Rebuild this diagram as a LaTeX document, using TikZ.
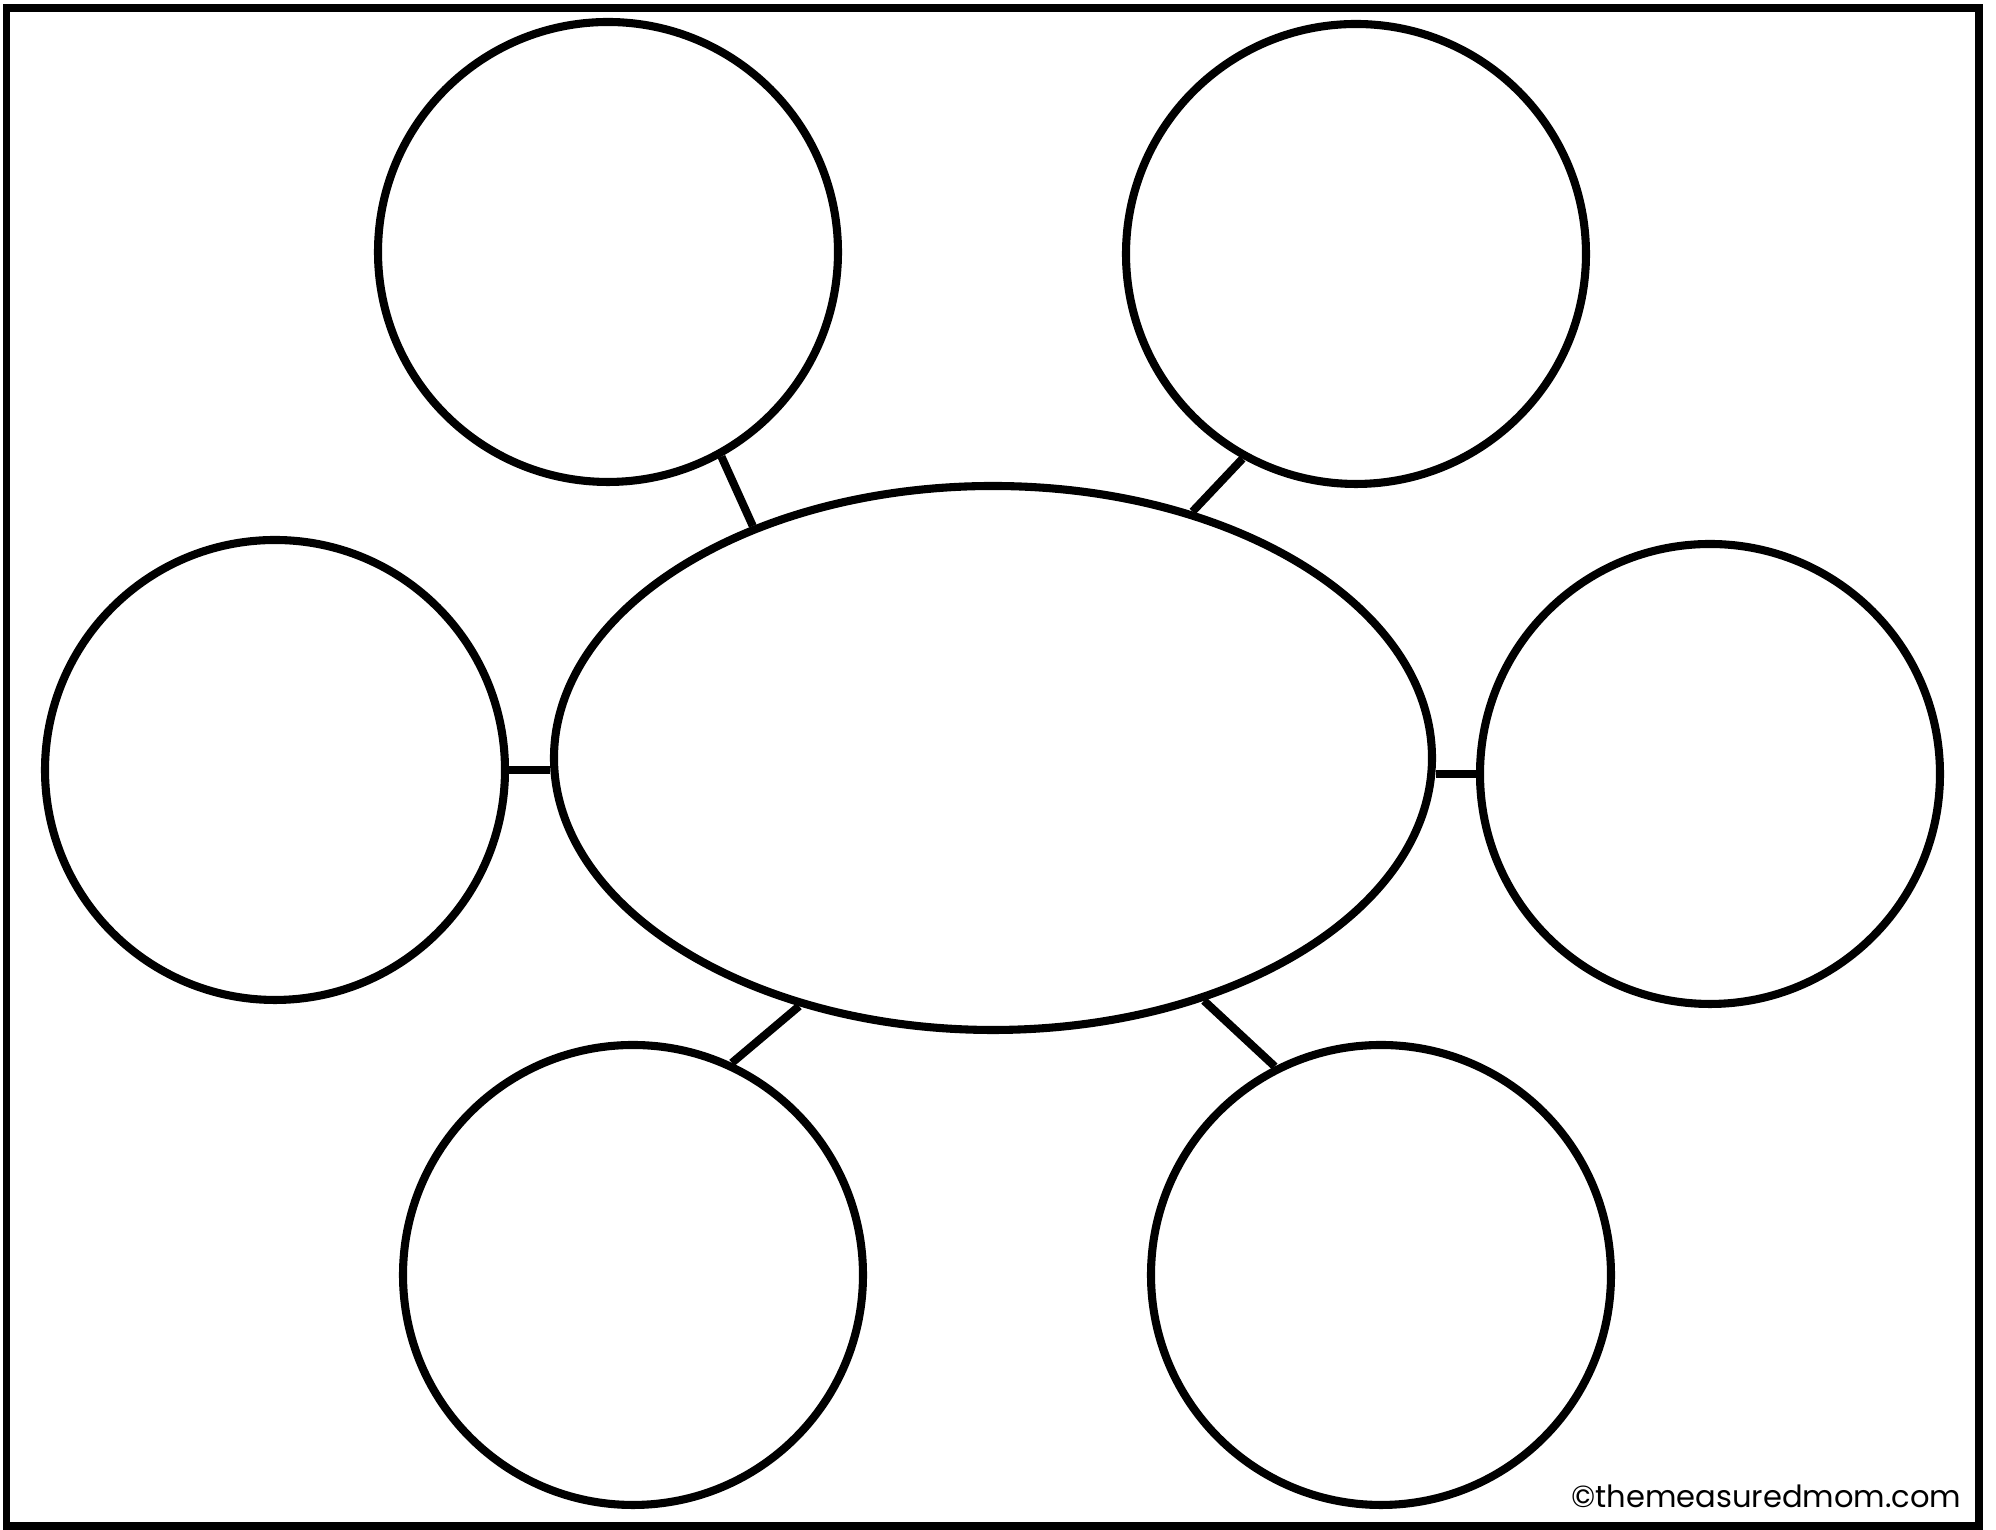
\documentclass[tikz,border=0pt]{standalone}
\usepackage{fontspec}
\newfontfamily\credfont{Poppins}
\usetikzlibrary{positioning,shapes.geometric}

\begin{document}
\begin{tikzpicture}[
  bub/.style={draw=black,circle,line width=2.3pt,minimum size=4.60cm,inner sep=0pt},
  conn/.style={line width=2.3pt,black}]
\useasboundingbox (0,0) rectangle (19.96,15.30);
\draw[line width=2.2pt] (0.065,0.04) rectangle (19.79,15.22);
\node[draw=black,ellipse,line width=2.3pt,minimum width=8.78cm,minimum height=5.44cm,inner sep=0pt] (main) at (9.93,7.72) {};
\node[bub] (tl) at (6.08,12.78) {};
\node[bub] (tr) at (13.56,12.76) {};
\node[bub] (lft) at (2.75,7.60) {};
\node[bub] (rgt) at (17.10,7.56) {};
\node[bub] (bl) at (6.33,2.55) {};
\node[bub] (br) at (13.81,2.55) {};
\draw[conn] (lft.east) -- (main.west |- lft.east);
\draw[conn] (rgt.west) -- (main.east |- rgt.west);
\draw[conn] (tl.-61) -- (main.136);
\draw[conn] (tr.-119) -- (main.51);
\draw[conn] (bl.65) -- (main.-128);
\draw[conn] (br.117) -- (main.-49);
\node[anchor=base east,inner sep=0pt,font=\credfont\fontsize{8.7}{10}\selectfont] (credit) at (19.62,0.22) {©themeasuredmom.com};
\end{tikzpicture}
\end{document}
